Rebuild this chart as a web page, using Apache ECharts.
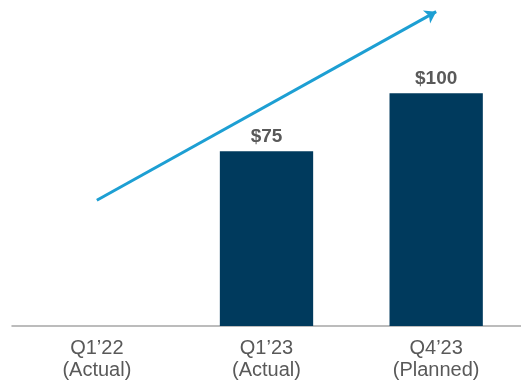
<!DOCTYPE html>
<html>
<head>
<meta charset="utf-8">
<script src="https://cdn.jsdelivr.net/npm/echarts@6/dist/echarts.min.js"></script>
<style>
  html, body { margin: 0; padding: 0; background: #ffffff; }
  #chart { width: 521px; height: 386px; }
</style>
</head>
<body>
<div id="chart"></div>
<script>
// Quarter categories and spend values (in $)
const categories = ['Q1\u201922\n(Actual)', 'Q1\u201923\n(Actual)', 'Q4\u201923\n(Planned)'];
const values = [null, 75, 100];
// Trend arrow: start and end points as [category index, value]
const trendArrow = [[0, 54], [2, 135]];

const chart = echarts.init(document.getElementById('chart'));
chart.setOption({
  animation: false,
  backgroundColor: '#ffffff',
  grid: { left: 12, right: 0, top: -2, bottom: 60, containLabel: false },
  xAxis: {
    type: 'category',
    data: categories,
    axisLine: { show: true, lineStyle: { color: '#a6a6a6', width: 1.5 } },
    axisTick: { show: false },
    axisLabel: {
      color: '#595959',
      fontFamily: 'Liberation Sans, Arial, sans-serif',
      fontSize: 20,
      lineHeight: 22,
      margin: 11
    }
  },
  yAxis: {
    type: 'value',
    min: 0,
    max: 140,
    show: false,
    splitLine: { show: false }
  },
  series: [{
    type: 'bar',
    data: values,
    barWidth: '55%',
    itemStyle: { color: '#003a5d' },
    label: {
      show: true,
      position: 'top',
      distance: 5,
      formatter: p => '$' + p.value,
      color: '#595959',
      fontFamily: 'Liberation Sans, Arial, sans-serif',
      fontWeight: 'bold',
      fontSize: 19
    },
    markLine: {
      silent: true,
      symbol: ['none', 'arrow'],
      symbolSize: 11,
      label: { show: false },
      lineStyle: { color: '#1d9fd3', width: 3, type: 'solid' },
      emphasis: { disabled: true },
      data: [[
        { coord: trendArrow[0] },
        { coord: trendArrow[1] }
      ]]
    }
  }]
});
</script>
</body>
</html>
